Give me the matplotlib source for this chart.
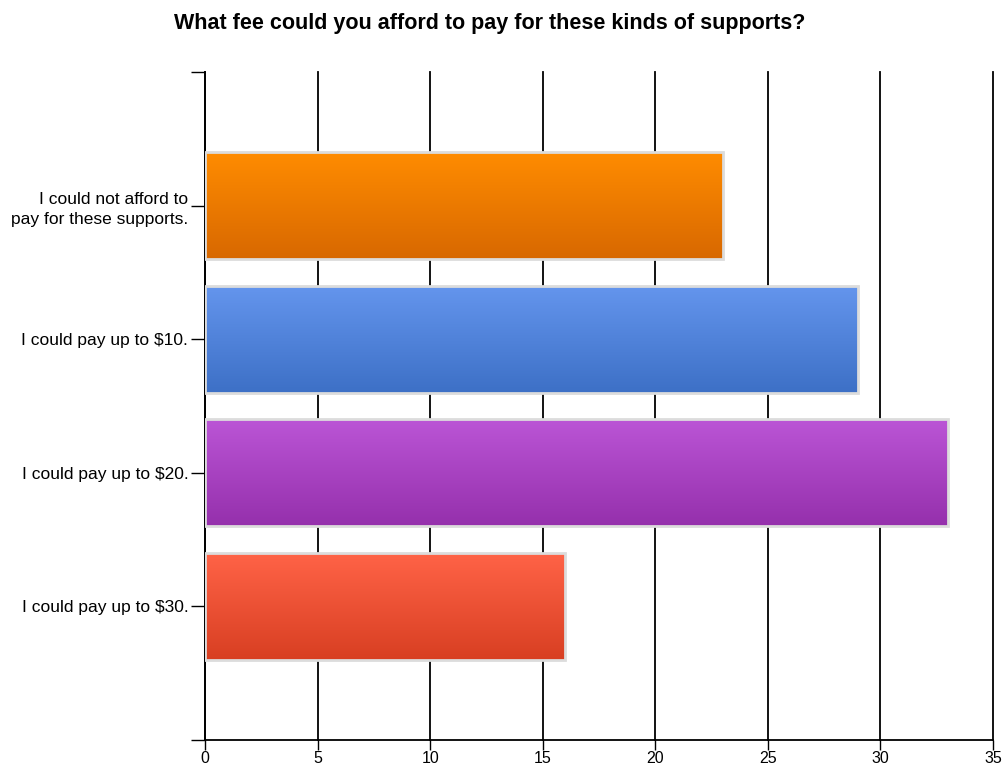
import matplotlib
matplotlib.use('Agg')
import matplotlib.pyplot as plt
import numpy as np
from matplotlib.colors import LinearSegmentedColormap

categories = ['I could not afford to\npay for these supports.',
              'I could pay up to $10.',
              'I could pay up to $20.',
              'I could pay up to $30.']
counts = [23, 29, 33, 16]
top_colors = ['#ff8c00', '#6495ed', '#bb55d6', '#ff6347']
bottom_colors = ['#d86800', '#3d70c6', '#9530ac', '#d83f22']
x_ticks = [0, 5, 10, 15, 20, 25, 30, 35]

plt.rcParams['font.family'] = ['Liberation Sans', 'DejaVu Sans']

fig = plt.figure(figsize=(10.02, 7.7), dpi=100)
ax = fig.add_axes([205/1002, 30/770, 788/1002, 668/770])

y_pos = np.arange(1, len(categories) + 1)
bars = ax.barh(y_pos, counts, height=0.8, color='none',
               edgecolor='#dcdcdc', linewidth=2, zorder=3)

# gradient fill inside each bar
grad = np.linspace(0, 1, 256).reshape(-1, 1)
for b, c1, c2 in zip(bars, top_colors, bottom_colors):
    cmap = LinearSegmentedColormap.from_list('g', [c1, c2])
    x0, y0 = b.get_x(), b.get_y()
    w, h = b.get_width(), b.get_height()
    im = ax.imshow(grad, cmap=cmap, aspect='auto', zorder=2,
                   extent=(x0, x0 + w, y0 + h, y0), interpolation='bilinear')
    im.set_clip_path(b)

ax.set_xlim(0, 35)
ax.set_ylim(5, 0)
ax.set_xticks(x_ticks)
ax.set_yticks(range(0, 6))
ax.set_yticklabels([''] + categories + [''], fontsize=12.5)
for lbl in ax.get_yticklabels():
    lbl.set_linespacing(1.4)
ax.tick_params(axis='x', labelsize=11.5, length=7, width=1, pad=1)
ax.tick_params(axis='y', length=10, width=1, pad=2)
ax.xaxis.grid(True, color='black', linewidth=1.3, zorder=0)
for gl in ax.get_xgridlines():
    gl.set_clip_on(False)
ax.set_axisbelow(True)
for s in ['top', 'right']:
    ax.spines[s].set_visible(False)
ax.spines['left'].set_linewidth(1.3)
ax.spines['bottom'].set_linewidth(1.3)

fig.text(490/1002, 1 - 23/770, 'What fee could you afford to pay for these kinds of supports?',
         ha='center', va='center', fontsize=15.5, fontweight='bold')

fig.savefig('out.png', dpi=100)
